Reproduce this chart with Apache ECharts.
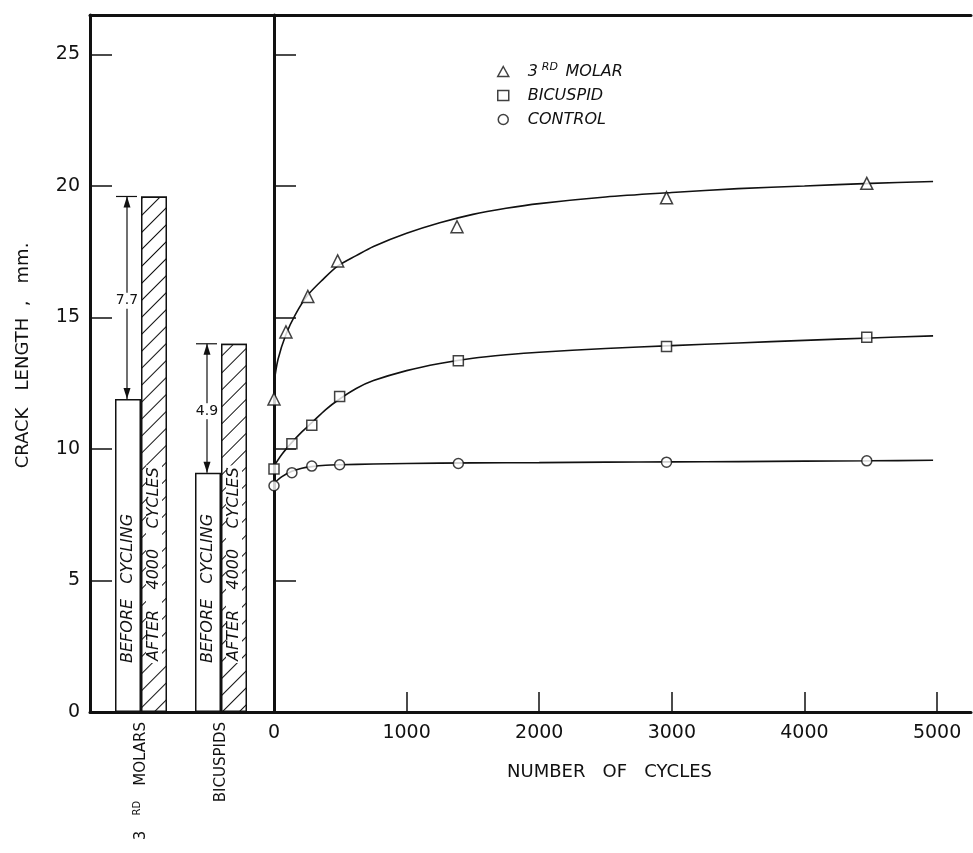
<!DOCTYPE html>
<html>
<head>
<meta charset="utf-8">
<script src="https://cdn.jsdelivr.net/npm/echarts@6/dist/echarts.min.js"></script>
<style>
html,body{margin:0;padding:0;background:#fff;}
#chart{width:973px;height:853px;}
</style>
</head>
<body>
<div id="chart"></div>
<script>
// ---- data ----
const toothCategories = ['3RD MOLARS', 'BICUSPIDS'];
const beforeCycling = [11.9, 9.1];
const after4000Cycles = [19.6, 14.0];

const molarPoints = [[0, 11.9], [90, 14.45], [255, 15.8], [480, 17.15], [1380, 18.45], [2960, 19.55], [4470, 20.1]];
const bicuspidPoints = [[0, 9.24], [135, 10.2], [285, 10.9], [495, 12.0], [1390, 13.35], [2960, 13.9], [4470, 14.25]];
const controlPoints = [[0, 8.6], [135, 9.1], [285, 9.35], [495, 9.4], [1390, 9.45], [2960, 9.5], [4470, 9.55]];

const molarCurve = [[0, 12.5], [30, 13.4], [90, 14.35], [160, 15.1], [255, 15.85], [370, 16.45], [480, 16.95], [620, 17.35], [750, 17.7], [1000, 18.2], [1250, 18.6], [1500, 18.92], [1750, 19.15], [2000, 19.33], [2500, 19.58], [3000, 19.75], [3500, 19.9], [4000, 20.0], [4500, 20.1], [4970, 20.17]];
const bicuspidCurve = [[0, 9.35], [60, 9.8], [135, 10.25], [210, 10.65], [285, 11.0], [390, 11.5], [495, 11.9], [620, 12.3], [750, 12.6], [1000, 12.98], [1250, 13.25], [1500, 13.45], [1750, 13.58], [2000, 13.68], [2500, 13.82], [3000, 13.93], [3500, 14.03], [4000, 14.13], [4500, 14.22], [4970, 14.3]];
const controlCurve = [[0, 8.7], [60, 8.95], [135, 9.15], [210, 9.27], [285, 9.33], [390, 9.38], [495, 9.4], [750, 9.43], [1000, 9.45], [1500, 9.47], [2000, 9.48], [2500, 9.5], [3000, 9.51], [3500, 9.52], [4000, 9.54], [4500, 9.55], [4970, 9.57]];

const legendNames = ['3RD MOLAR', 'BICUSPID', 'CONTROL'];
const yMax = 26.5;
const xMax = 5256;

// ---- chart ----
const FONT = 'DejaVu Sans';
const BLACK = '#111';
const chart = echarts.init(document.getElementById('chart'), null, {renderer: 'canvas'});

const barW = 26;
const dimData = toothCategories.map((c, i) => [i, beforeCycling[i], after4000Cycles[i], (after4000Cycles[i] - beforeCycling[i]).toFixed(1)]);

const markerStyle = {color: '#fff', borderColor: BLACK, borderWidth: 1.5};
const curveStyle = {color: BLACK, width: 1.6};

const option = {
  backgroundColor: '#fff',
  animation: false,
  textStyle: {fontFamily: FONT, color: BLACK},
  grid: [
    {left: 101, width: 160, top: 15, bottom: 141},
    {left: 274, right: 2, top: 15, bottom: 141},
    {left: 90, right: 2, top: 15, bottom: 141}
  ],
  legend: {
    orient: 'vertical',
    left: 492, top: 57,
    itemWidth: 11, itemHeight: 10, itemGap: 8,
    itemStyle: {color: '#fff', borderColor: BLACK, borderWidth: 1.5},
    data: legendNames,
    formatter: n => n === '3RD MOLAR' ? '{n|3} {s|RD}  {n|MOLAR}' : '{n|' + n + '}',
    textStyle: {
      padding: [0, 0, 0, 14],
      rich: {
        n: {fontFamily: FONT, fontStyle: 'italic', fontSize: 16, color: BLACK, lineHeight: 17},
        s: {fontFamily: FONT, fontStyle: 'italic', fontSize: 11, color: BLACK, padding: [0, 0, 8, 0]}
      }
    }
  },
  xAxis: [
    {
      type: 'category', gridIndex: 0, data: toothCategories,
      axisLine: {show: false}, axisTick: {show: false},
      axisLabel: {
        rotate: 90, margin: 10, interval: 0,
        formatter: v => v === '3RD MOLARS' ? '{n|3}    {s|RD}    {n|MOLARS}' : '{n|' + v + '}',
        rich: {
          n: {fontFamily: FONT, fontSize: 15, color: BLACK},
          s: {fontFamily: FONT, fontSize: 10, color: BLACK, padding: [0, 0, 8, 0]}
        }
      }
    },
    {
      type: 'value', gridIndex: 1, min: 0, max: xMax, interval: 1000,
      axisLine: {show: false},
      axisTick: {inside: true, length: 20, lineStyle: {color: BLACK, width: 1.5}},
      axisLabel: {fontFamily: FONT, fontSize: 19, color: BLACK, margin: 12, showMaxLabel: false, formatter: v => String(v)},
      splitLine: {show: false},
      name: 'NUMBER   OF   CYCLES', nameLocation: 'middle', nameGap: 51,
      nameTextStyle: {fontFamily: FONT, fontSize: 18, color: BLACK, padding: [0, 26, 0, 0]}
    },
    {
      type: 'value', gridIndex: 2, min: 0, max: 1, position: 'bottom',
      axisLine: {lineStyle: {color: BLACK, width: 3}},
      axisTick: {show: false}, axisLabel: {show: false}, splitLine: {show: false}
    },
    {
      type: 'value', gridIndex: 2, min: 0, max: 1, position: 'top',
      axisLine: {lineStyle: {color: BLACK, width: 3}},
      axisTick: {show: false}, axisLabel: {show: false}, splitLine: {show: false}
    }
  ],
  yAxis: [
    {
      type: 'value', gridIndex: 0, min: 0, max: yMax, interval: 5, offset: 11,
      axisLine: {show: true, lineStyle: {color: BLACK, width: 3}},
      axisTick: {show: true, inside: true, length: 22, lineStyle: {color: BLACK, width: 1.5}},
      axisLabel: {fontFamily: FONT, fontSize: 19, color: BLACK, margin: 10, showMaxLabel: false},
      splitLine: {show: false},
      name: 'CRACK   LENGTH  ,   mm.', nameLocation: 'middle', nameGap: 58,
      nameTextStyle: {fontFamily: FONT, fontSize: 18, color: BLACK, padding: [0, 0, 0, 16]}
    },
    {
      type: 'value', gridIndex: 1, min: 0, max: yMax, interval: 5, offset: 2,
      axisLine: {show: true, lineStyle: {color: BLACK, width: 3}},
      axisTick: {show: true, inside: true, length: 22, lineStyle: {color: BLACK, width: 1.5}},
      axisLabel: {show: false},
      splitLine: {show: false}
    },
    {
      type: 'value', gridIndex: 2, min: 0, max: 1, position: 'right',
      axisLine: {show: true, lineStyle: {color: BLACK, width: 1.5}},
      axisTick: {show: false}, axisLabel: {show: false}, splitLine: {show: false}
    }
  ],
  series: [
    {
      type: 'bar', name: 'BEFORE CYCLING', xAxisIndex: 0, yAxisIndex: 0,
      data: beforeCycling, barWidth: barW, barGap: '0%',
      itemStyle: {color: '#fff', borderColor: BLACK, borderWidth: 1.5},
      label: {
        show: true, position: 'insideBottom', distance: 49, rotate: 90,
        align: 'left', verticalAlign: 'middle',
        formatter: 'BEFORE   CYCLING',
        fontFamily: FONT, fontStyle: 'italic', fontSize: 16, color: BLACK
      },
      z: 2
    },
    {
      type: 'bar', name: 'AFTER 4000 CYCLES', xAxisIndex: 0, yAxisIndex: 0,
      data: after4000Cycles, barWidth: barW, barGap: '0%',
      itemStyle: {
        color: '#fff', borderColor: BLACK, borderWidth: 1.5,
        decal: {symbol: 'rect', symbolSize: 1, dashArrayX: [1, 0], dashArrayY: [1, 10.5], rotation: -Math.PI / 4, color: BLACK, backgroundColor: '#fff'}
      },
      label: {
        show: true, position: 'insideBottom', distance: 49, rotate: 90,
        align: 'left', verticalAlign: 'middle',
        formatter: 'AFTER    4000    CYCLES',
        backgroundColor: '#fff', padding: [0, 2],
        fontFamily: FONT, fontStyle: 'italic', fontSize: 16, color: BLACK
      },
      z: 2
    },
    {
      type: 'custom', name: 'diff', xAxisIndex: 0, yAxisIndex: 0,
      data: dimData, z: 5,
      renderItem: function (params, api) {
        const lo = api.coord([api.value(0), api.value(1)]);
        const hi = api.coord([api.value(0), api.value(2)]);
        const x = lo[0] - barW / 2 - 1;
        const mid = (lo[1] + hi[1]) / 2;
        const st = {stroke: BLACK, lineWidth: 1.2};
        return {
          type: 'group',
          children: [
            {type: 'line', shape: {x1: x, y1: lo[1], x2: x, y2: hi[1]}, style: st},
            {type: 'line', shape: {x1: x - 11, y1: hi[1], x2: x + 10, y2: hi[1]}, style: st},
            {type: 'polygon', shape: {points: [[x, hi[1]], [x - 3.5, hi[1] + 11], [x + 3.5, hi[1] + 11]]}, style: {fill: BLACK}},
            {type: 'polygon', shape: {points: [[x, lo[1]], [x - 3.5, lo[1] - 11], [x + 3.5, lo[1] - 11]]}, style: {fill: BLACK}},
            {type: 'text', x: x, y: mid + 3, style: {text: api.value(3), fontFamily: FONT, fontSize: 14, fill: BLACK, align: 'center', verticalAlign: 'middle', backgroundColor: '#fff', padding: [1, 0]}}
          ]
        };
      }
    },
    {type: 'line', xAxisIndex: 1, yAxisIndex: 1, data: molarCurve, smooth: 0.3, showSymbol: false, lineStyle: curveStyle, z: 3},
    {type: 'line', xAxisIndex: 1, yAxisIndex: 1, data: bicuspidCurve, smooth: 0.3, showSymbol: false, lineStyle: curveStyle, z: 3},
    {type: 'line', xAxisIndex: 1, yAxisIndex: 1, data: controlCurve, smooth: 0.3, showSymbol: false, lineStyle: curveStyle, z: 3},
    {type: 'scatter', name: legendNames[0], xAxisIndex: 1, yAxisIndex: 1, data: molarPoints, symbol: 'triangle', symbolSize: 12, itemStyle: markerStyle, z: 6},
    {type: 'scatter', name: legendNames[1], xAxisIndex: 1, yAxisIndex: 1, data: bicuspidPoints, symbol: 'rect', symbolSize: 10, itemStyle: markerStyle, z: 6},
    {type: 'scatter', name: legendNames[2], xAxisIndex: 1, yAxisIndex: 1, data: controlPoints, symbol: 'circle', symbolSize: 10, itemStyle: markerStyle, z: 6}
  ]
};
chart.setOption(option);
</script>
</body>
</html>
